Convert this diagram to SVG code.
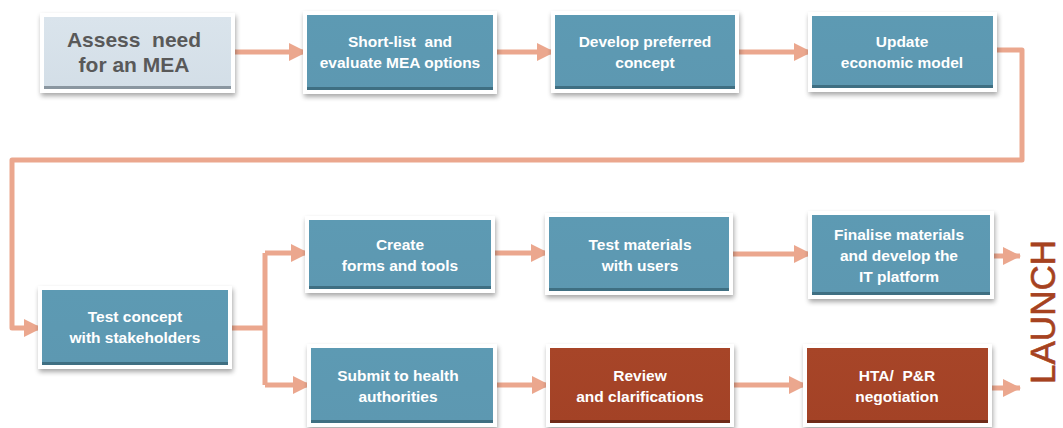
<svg xmlns="http://www.w3.org/2000/svg" width="1063" height="428" viewBox="0 0 1063 428">
<style>
.frame{fill:#ffffff;filter:url(#sh)}
.blue{fill:url(#gb)}
.red{fill:url(#gr)}
.grey{fill:url(#gg)}
.edgeb{fill:#3f6f82}
.edger{fill:#6e2a17}
.edgeg{fill:#8a96a0}
text{white-space:pre}
.t{font-family:"Liberation Sans",Arial,sans-serif;font-weight:bold;font-size:15.5px;fill:#ffffff;text-anchor:middle}
.ta{font-family:"Liberation Sans",Arial,sans-serif;font-weight:bold;font-size:21px;fill:#595959;text-anchor:middle}
.c{fill:none;stroke:#eba78e;stroke-width:5;stroke-linejoin:round}
.launch{font-family:"Liberation Sans",Arial,sans-serif;font-size:35px;fill:#a6421f;text-anchor:middle;stroke:#a6421f;stroke-width:0.6}
</style>
<defs>
<filter id="sh" x="-10%" y="-20%" width="125%" height="150%">
<feGaussianBlur in="SourceAlpha" stdDeviation="2.5"/>
<feOffset dx="1" dy="3" result="b"/>
<feComponentTransfer><feFuncA type="linear" slope="0.35"/></feComponentTransfer>
<feMerge><feMergeNode/><feMergeNode in="SourceGraphic"/></feMerge>
</filter>
<linearGradient id="gb" x1="0" y1="0" x2="0" y2="1">
<stop offset="0" stop-color="#5d9ab3"/>
<stop offset="1" stop-color="#5d98b1"/>
</linearGradient>
<linearGradient id="gr" x1="0" y1="0" x2="0" y2="1">
<stop offset="0" stop-color="#a74528"/>
<stop offset="1" stop-color="#a34226"/>
</linearGradient>
<linearGradient id="gg" x1="0" y1="0" x2="0" y2="1">
<stop offset="0" stop-color="#dae4ec"/>
<stop offset="1" stop-color="#d3dee7"/>
</linearGradient>
<marker id="ah" viewBox="0 0 18 18" refX="17" refY="9" markerWidth="18" markerHeight="18" markerUnits="userSpaceOnUse" orient="auto">
<path d="M0,0 L18,9 L0,18 z" fill="#eba78e"/>
</marker>
</defs>

<g id="connectors">
<path class="c" d="M233,52 H306" marker-end="url(#ah)"/>
<path class="c" d="M493,52 H554" marker-end="url(#ah)"/>
<path class="c" d="M735,52 H811" marker-end="url(#ah)"/>
<path class="c" d="M993,50 H1022 V160 H12 V328 H41" marker-end="url(#ah)"/>
<path class="c" d="M228,328 H265"/>
<path class="c" d="M265,253 V385"/>
<path class="c" d="M265,253 H308" marker-end="url(#ah)"/>
<path class="c" d="M265,385 H310" marker-end="url(#ah)"/>
<path class="c" d="M491,253 H548" marker-end="url(#ah)"/>
<path class="c" d="M730,254 H811" marker-end="url(#ah)"/>
<path class="c" d="M990,256 H1020" marker-end="url(#ah)"/>
<path class="c" d="M493,385 H549" marker-end="url(#ah)"/>
<path class="c" d="M730,385 H806" marker-end="url(#ah)"/>
<path class="c" d="M988,388 H1020" marker-end="url(#ah)"/>
</g>

<g id="assess">
<rect class="frame" x="40" y="13" width="195" height="80"/>
<rect class="grey" x="44" y="17" width="187" height="72"/>
<rect class="edgeg" x="44" y="86" width="187" height="3"/>
<text class="ta" x="134" y="47">Assess  need</text>
<text class="ta" x="134" y="72">for an MEA</text>
</g>

<g id="shortlist">
<rect class="frame" x="303" y="11" width="194" height="83"/>
<rect class="blue" x="307" y="15" width="186" height="75"/>
<rect class="edgeb" x="307" y="87" width="186" height="3"/>
<text class="t" x="400" y="47">Short-list  and</text>
<text class="t" x="400" y="68">evaluate MEA options</text>
</g>

<g id="develop">
<rect class="frame" x="551" y="11" width="188" height="82"/>
<rect class="blue" x="555" y="15" width="180" height="74"/>
<rect class="edgeb" x="555" y="86" width="180" height="3"/>
<text class="t" x="645" y="47">Develop preferred</text>
<text class="t" x="645" y="68">concept</text>
</g>

<g id="update">
<rect class="frame" x="808" y="12" width="189" height="80"/>
<rect class="blue" x="812" y="16" width="181" height="72"/>
<rect class="edgeb" x="812" y="85" width="181" height="3"/>
<text class="t" x="902" y="47">Update</text>
<text class="t" x="902" y="68">economic model</text>
</g>

<g id="testconcept">
<rect class="frame" x="38" y="286" width="194" height="83"/>
<rect class="blue" x="42" y="290" width="186" height="75"/>
<rect class="edgeb" x="42" y="362" width="186" height="3"/>
<text class="t" x="135" y="322">Test concept</text>
<text class="t" x="135" y="343">with stakeholders</text>
</g>

<g id="create">
<rect class="frame" x="305" y="216" width="190" height="77"/>
<rect class="blue" x="309" y="220" width="182" height="69"/>
<rect class="edgeb" x="309" y="286" width="182" height="3"/>
<text class="t" x="400" y="250">Create</text>
<text class="t" x="400" y="271">forms and tools</text>
</g>

<g id="testmaterials">
<rect class="frame" x="545" y="213" width="188" height="82"/>
<rect class="blue" x="549" y="217" width="180" height="74"/>
<rect class="edgeb" x="549" y="288" width="180" height="3"/>
<text class="t" x="640" y="250">Test materials</text>
<text class="t" x="640" y="271">with users</text>
</g>

<g id="finalise">
<rect class="frame" x="808" y="211" width="186" height="88"/>
<rect class="blue" x="812" y="215" width="178" height="80"/>
<rect class="edgeb" x="812" y="292" width="178" height="3"/>
<text class="t" x="899" y="240">Finalise materials</text>
<text class="t" x="899" y="261">and develop the</text>
<text class="t" x="899" y="282">IT platform</text>
</g>

<g id="submit">
<rect class="frame" x="307" y="344" width="190" height="83"/>
<rect class="blue" x="311" y="348" width="182" height="75"/>
<rect class="edgeb" x="311" y="420" width="182" height="3"/>
<text class="t" x="398" y="381">Submit to health</text>
<text class="t" x="398" y="402">authorities</text>
</g>

<g id="review">
<rect class="frame" x="546" y="344" width="188" height="83"/>
<rect class="red" x="550" y="348" width="180" height="75"/>
<rect class="edger" x="550" y="420" width="180" height="3"/>
<text class="t" x="640" y="381">Review</text>
<text class="t" x="640" y="402">and clarifications</text>
</g>

<g id="hta">
<rect class="frame" x="803" y="344" width="189" height="83"/>
<rect class="red" x="807" y="348" width="181" height="75"/>
<rect class="edger" x="807" y="420" width="181" height="3"/>
<text class="t" x="897" y="381">HTA/  P&amp;R</text>
<text class="t" x="897" y="402">negotiation</text>
</g>

<g id="launch">
<text class="launch" transform="translate(1055,312) rotate(-90)" x="0" y="0">LAUNCH</text>
</g>
</svg>
